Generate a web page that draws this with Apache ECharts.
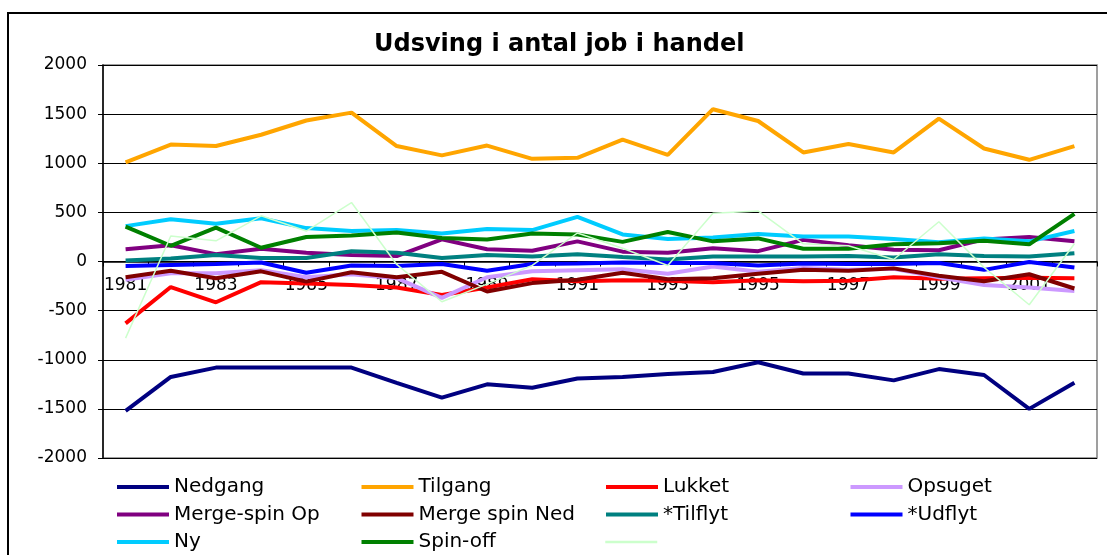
<!DOCTYPE html>
<html>
<head>
<meta charset="utf-8">
<script src="https://cdn.jsdelivr.net/npm/echarts@6/dist/echarts.min.js"></script>
<style>
  html, body { margin: 0; padding: 0; background: #fff; }
  #chart { width: 1107px; height: 555px; }
</style>
</head>
<body>
<div id="chart"></div>
<script>
const years = ['1981', '1982', '1983', '1984', '1985', '1986', '1987', '1988', '1989', '1990', '1991',
  '1992', '1993', '1994', '1995', '1996', '1997', '1998', '1999', '2000', '2001', '2002'];

const nedgang = [-1520, -1175, -1080, -1080, -1080, -1080, -1235, -1385, -1250, -1285, -1190,
  -1175, -1145, -1125, -1025, -1140, -1140, -1210, -1095, -1155, -1500, -1235];
const tilgang = [1010, 1190, 1175, 1290, 1435, 1515, 1175, 1080, 1180, 1045, 1055,
  1240, 1085, 1550, 1430, 1110, 1195, 1110, 1455, 1150, 1035, 1175];
const lukket = [-630, -260, -415, -210, -225, -240, -265, -340, -265, -180, -200,
  -190, -195, -210, -190, -200, -195, -160, -175, -170, -165, -170];
const opsuget = [-185, -120, -120, -90, -160, -130, -170, -370, -160, -100, -90,
  -80, -125, -50, -105, -65, -85, -75, -160, -240, -265, -300];
const mergeOp = [125, 165, 75, 130, 90, 65, 55, 225, 125, 110, 205,
  100, 90, 135, 105, 220, 165, 120, 115, 225, 250, 205];
const mergeNed = [-160, -95, -170, -100, -205, -110, -160, -105, -305, -220, -185,
  -115, -180, -170, -125, -85, -95, -70, -145, -200, -130, -275];
const tilflyt = [10, 30, 65, 35, 35, 105, 90, 35, 65, 50, 75,
  45, 20, 50, 50, 50, 55, 40, 75, 55, 50, 85];
const udflyt = [-45, -35, -25, -10, -115, -40, -45, -25, -95, -25, -20,
  -10, -15, -15, -40, -20, -25, -25, -15, -85, -5, -60];
const ny = [360, 430, 385, 440, 340, 310, 320, 285, 330, 320, 455,
  275, 230, 245, 280, 255, 255, 230, 195, 235, 205, 310];
const spinOff = [355, 160, 345, 140, 250, 265, 295, 240, 225, 285, 275,
  200, 300, 205, 235, 130, 130, 175, 185, 210, 175, 485];
const unnamed = [-780, 260, 210, 465, 310, 600, -30, -410, -230, -40, 290,
  135, -40, 490, 515, 180, 160, 20, 405, -60, -440, 180];

const font = 'DejaVu Sans';

function line(name, data, color, width) {
  return {
    name: name,
    type: 'line',
    data: data,
    symbol: 'none',
    smooth: false,
    lineStyle: { color: color, width: width },
    itemStyle: { color: color },
    emphasis: { disabled: true }
  };
}

const series = [
  line('Nedgang', nedgang, '#000080', 4),
  line('Tilgang', tilgang, '#FFA500', 4),
  line('Lukket', lukket, '#FF0000', 4),
  line('Opsuget', opsuget, '#CC99FF', 4),
  line('Merge-spin Op', mergeOp, '#800080', 4),
  line('Merge spin Ned', mergeNed, '#800000', 4),
  line('*Tilflyt', tilflyt, '#008080', 4),
  line('*Udflyt', udflyt, '#0000FF', 4),
  line('Ny', ny, '#00CCFF', 4),
  line('Spin-off', spinOff, '#008000', 4),
  line(' ', unnamed, '#CCFFCC', 1.5)
];

const chart = echarts.init(document.getElementById('chart'));
chart.setOption({
  animation: false,
  title: {
    text: 'Udsving i antal job i handel',
    left: 374,
    top: 33,
    padding: 0,
    textStyle: { fontFamily: font, fontSize: 24, fontWeight: 'bold', color: '#000' }
  },
  graphic: [{
    type: 'rect',
    shape: { x: 8, y: 13, width: 1200, height: 600 },
    style: { fill: 'none', stroke: '#000', lineWidth: 2 },
    silent: true
  }],
  legend: {
    left: 115,
    top: 476,
    width: 990,
    padding: 0,
    itemWidth: 52,
    itemHeight: 22,
    itemGap: 5.5,
    itemStyle: { opacity: 0 },
    data: series.map(s => ({
      name: s.name,
      lineStyle: { width: s.lineStyle.width > 2 ? 4 : 2.5 }
    })),
    textStyle: { fontFamily: font, fontSize: 20, color: '#000', width: 180, lineHeight: 22 }
  },
  grid: {
    left: 103,
    right: 10,
    top: 65,
    bottom: 97,
    show: true,
    borderColor: '#808080',
    borderWidth: 1.5
  },
  xAxis: {
    type: 'category',
    data: years,
    boundaryGap: true,
    position: 'bottom',
    offset: -196.5,
    axisLine: { onZero: false, lineStyle: { color: '#000', width: 1.5 } },
    axisTick: { show: true, interval: 0, length: 5, lineStyle: { color: '#000' } },
    axisLabel: { interval: 1, margin: 16, fontFamily: font, fontSize: 17, color: '#000' },
    splitLine: { show: false }
  },
  yAxis: {
    type: 'value',
    min: -2000,
    max: 2000,
    interval: 500,
    axisLine: { show: true, lineStyle: { color: '#000', width: 1.5 } },
    axisTick: { show: true, length: 5, lineStyle: { color: '#000' } },
    axisLabel: {
      margin: 16, fontFamily: font, fontSize: 17, color: '#000',
      formatter: v => String(v)
    },
    splitLine: { show: true, lineStyle: { color: '#000', width: 1 } }
  },
  series: series
});
</script>
</body>
</html>
